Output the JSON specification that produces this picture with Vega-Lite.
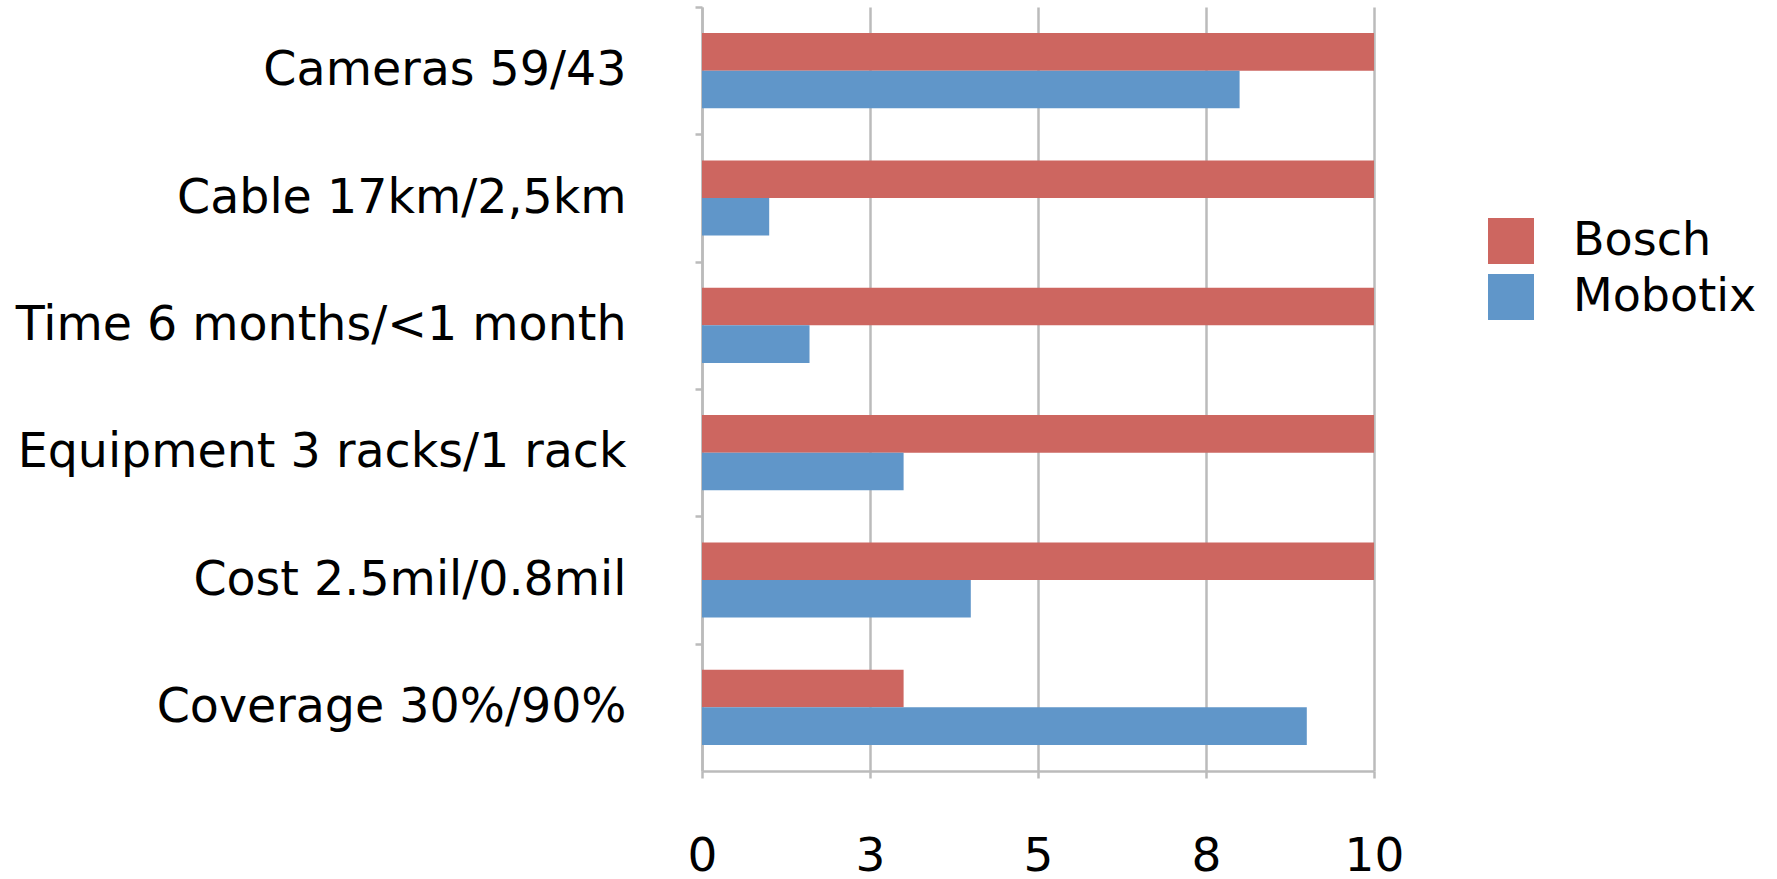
{
  "$schema": "https://vega.github.io/schema/vega-lite/v6.json",
  "autosize": "none",
  "width": 672,
  "height": 764,
  "padding": {"left": 702, "top": 7, "right": 403, "bottom": 108},
  "background": "white",
  "data": {
    "values": [
      {"category": "Cameras 59/43", "series": "Bosch", "value": 10},
      {"category": "Cameras 59/43", "series": "Mobotix", "value": 8.0},
      {"category": "Cable 17km/2,5km", "series": "Bosch", "value": 10},
      {"category": "Cable 17km/2,5km", "series": "Mobotix", "value": 1.0},
      {"category": "Time 6 months/<1 month", "series": "Bosch", "value": 10},
      {"category": "Time 6 months/<1 month", "series": "Mobotix", "value": 1.6},
      {"category": "Equipment 3 racks/1 rack", "series": "Bosch", "value": 10},
      {"category": "Equipment 3 racks/1 rack", "series": "Mobotix", "value": 3.0},
      {"category": "Cost 2.5mil/0.8mil", "series": "Bosch", "value": 10},
      {"category": "Cost 2.5mil/0.8mil", "series": "Mobotix", "value": 4.0},
      {"category": "Coverage 30%/90%", "series": "Bosch", "value": 3.0},
      {"category": "Coverage 30%/90%", "series": "Mobotix", "value": 9.0}
    ]
  },
  "mark": {"type": "bar"},
  "encoding": {
    "y": {
      "field": "category",
      "type": "nominal",
      "sort": null,
      "scale": {"paddingInner": 0.41, "paddingOuter": 0.205},
      "axis": {
        "title": null,
        "ticks": true,
        "tickOffset": -63.67,
        "labelOffset": 63.67,
        "tickSize": 7,
        "tickColor": "#bbbbbb",
        "tickWidth": 2.5,
        "domainColor": "#bbbbbb",
        "domainWidth": 2.5,
        "labelFont": "DejaVu Sans",
        "labelFontSize": 47.5,
        "labelColor": "black",
        "labelPadding": 69,
        "labelLimit": 0,
        "grid": false
      }
    },
    "yOffset": {"field": "series", "type": "nominal", "sort": ["Bosch", "Mobotix"]},
    "x": {
      "field": "value",
      "type": "quantitative",
      "scale": {"domain": [0, 10], "nice": false},
      "axis": {
        "title": null,
        "values": [0, 2.5, 5, 7.5, 10],
        "format": ".0f",
        "grid": true,
        "gridColor": "#bbbbbb",
        "gridWidth": 2.5,
        "tickColor": "#bbbbbb",
        "tickWidth": 2.5,
        "tickSize": 7,
        "domainColor": "#bbbbbb",
        "domainWidth": 2.5,
        "labelFont": "DejaVu Sans",
        "labelFontSize": 47,
        "labelColor": "black",
        "labelPadding": 55,
        "labelFlush": false,
        "labelOverlap": false
      }
    },
    "color": {
      "field": "series",
      "type": "nominal",
      "scale": {"domain": ["Bosch", "Mobotix"], "range": ["#CD6660", "#6096C9"]},
      "legend": {
        "title": null,
        "orient": "none",
        "legendX": 786,
        "legendY": 211,
        "symbolType": "square",
        "symbolSize": 2116,
        "symbolStrokeWidth": 0,
        "rowPadding": 10,
        "labelOffset": 39,
        "labelFont": "DejaVu Sans",
        "labelFontSize": 46,
        "labelColor": "black",
        "labelLimit": 0
      }
    }
  },
  "config": {
    "view": {"stroke": null},
    "bar": {"stroke": null}
  }
}
